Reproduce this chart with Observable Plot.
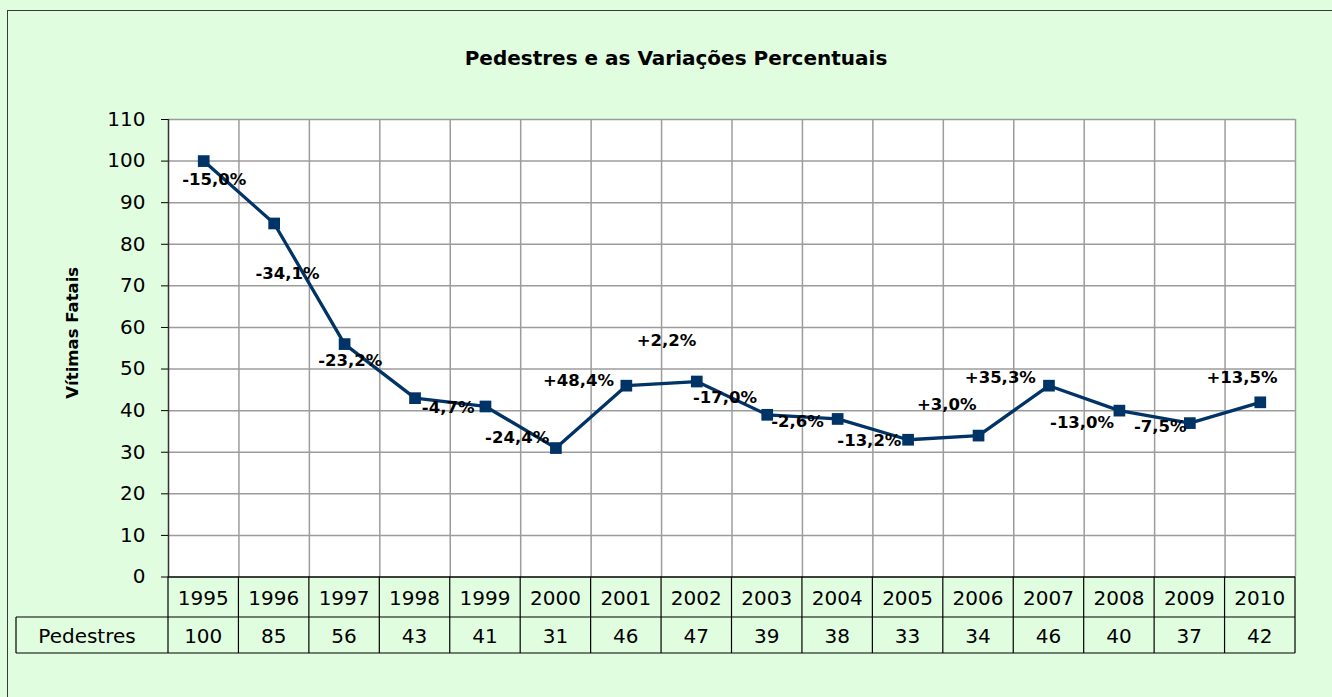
<!DOCTYPE html>
<html><head><meta charset="utf-8">
<script src="https://cdn.jsdelivr.net/npm/d3@7"></script>
<script src="https://cdn.jsdelivr.net/npm/@observablehq/plot@0.6"></script>
<style>
html,body{margin:0;padding:0;background:#e0fde0;overflow:hidden;width:1332px;height:697px}
#frame{position:absolute;left:7px;top:10px;width:1400px;height:800px;border:1.5px solid #3a3a3a;pointer-events:none}
#title{height:54px;padding-top:46px;padding-left:20px;line-height:24px;text-align:center;font:bold 20px "DejaVu Sans";color:#000}
#chart svg{display:block}
</style></head><body>
<div id="frame"></div>
<div id="title">Pedestres e as Variações Percentuais</div>
<div id="chart"></div>
<script>
const years = [1995,1996,1997,1998,1999,2000,2001,2002,2003,2004,2005,2006,2007,2008,2009,2010];
const pedestres = [100,85,56,43,41,31,46,47,39,38,33,34,46,40,37,42];
const variacoes = ["-15,0%","-34,1%","-23,2%","-4,7%","-24,4%","+48,4%","+2,2%","-17,0%","-2,6%","-13,2%","+3,0%","+35,3%","-13,0%","-7,5%","+13,5%"];
const labelX = [1995.15,1996.19,1997.08,1998.47,1999.45,2000.32,2001.57,2002.40,2003.43,2004.45,2005.55,2006.31,2007.47,2008.58,2009.74];
const labelY = [95.5,72.9,52.1,40.8,33.6,47.3,56.9,43.2,37.4,32.7,41.5,48.0,37.0,36.1,47.8];
const yTicks = [0,10,20,30,40,50,60,70,80,90,100,110];
const seriesName = "Pedestres";
const yTitle = "Vítimas Fatais";

const data = years.map((year, i) => ({year, value: pedestres[i]}));
const bounds = years.map(d => d + 0.5);
const font = "DejaVu Sans";

const chart = Plot.plot({
  width: 1332,
  height: 597,
  marginLeft: 168,
  marginRight: 37,
  marginTop: 19,
  marginBottom: 120.5,
  style: {fontFamily: font, fontSize: "20px", background: "transparent", overflow: "visible", color: "#000"},
  x: {type: "linear", domain: [years[0] - 0.5, years[years.length - 1] + 0.5], axis: null},
  y: {domain: [0, 110], axis: null},
  marks: [
    Plot.frame({fill: "white", stroke: null}),
    Plot.ruleY(yTicks.filter(d => d > 0), {stroke: "#9c9c9c", strokeWidth: 1.5}),
    Plot.ruleX(bounds, {stroke: "#9c9c9c", strokeWidth: 1.5}),
    Plot.ruleX([years[0] - 0.5], {stroke: "#333", strokeWidth: 1.5}),
    Plot.ruleY([0], {stroke: "#000", strokeWidth: 1.5}),
    Plot.axisY({ticks: yTicks, tickSize: 7, tickPadding: 16, fontSize: 20, label: null, stroke: "#000"}),
    Plot.line(data, {x: "year", y: "value", stroke: "#003366", strokeWidth: 3.3}),
    Plot.dot(data, {x: "year", y: "value", symbol: "square", r: 6.6, fill: "#003366", stroke: null}),
    Plot.text(variacoes, {x: (d, i) => labelX[i], y: (d, i) => labelY[i], text: d => d, fontWeight: "bold", fontSize: 16.5, fill: "#000"})
  ]
});

// data table under the chart, positioned with the chart's own scales
const xs = chart.scale("x"), ys = chart.scale("y");
const fx = d3.scaleLinear(xs.domain, xs.range);
const fy = d3.scaleLinear(ys.domain, ys.range);
const top0 = fy(0), row1 = top0 + 40.5, row2 = top0 + 76.5;
const left0 = 16, xStart = fx(years[0] - 0.5), xEnd = fx(years[years.length - 1] + 0.5);
const svg = d3.select(chart);
const g = svg.append("g").attr("stroke", "#000").attr("stroke-width", 1.2);
g.append("line").attr("x1", left0).attr("x2", xEnd).attr("y1", row1).attr("y2", row1);
g.append("line").attr("x1", left0).attr("x2", xEnd).attr("y1", row2).attr("y2", row2);
g.append("line").attr("x1", left0).attr("x2", left0).attr("y1", row1).attr("y2", row2);
g.append("line").attr("x1", xStart).attr("x2", xStart).attr("y1", top0).attr("y2", row2);
bounds.forEach(b => g.append("line").attr("x1", fx(b)).attr("x2", fx(b)).attr("y1", top0).attr("y2", row2));
const t = svg.append("g").attr("font-family", font).attr("font-size", 20).attr("fill", "#000")
  .attr("text-anchor", "middle").attr("dominant-baseline", "central");
years.forEach((yr, i) => {
  t.append("text").attr("x", fx(yr)).attr("y", (top0 + row1) / 2 + 1).text(yr);
  t.append("text").attr("x", fx(yr)).attr("y", (row1 + row2) / 2 + 1).text(pedestres[i]);
});
t.append("text").attr("x", 87).attr("y", (row1 + row2) / 2 + 1).text(seriesName);

// y-axis title
svg.append("text")
  .attr("transform", `translate(72,${(fy(0) + fy(110)) / 2 - 15}) rotate(-90)`)
  .attr("font-family", font).attr("font-size", 16.5).attr("font-weight", "bold")
  .attr("fill", "#000").attr("text-anchor", "middle").attr("dominant-baseline", "central")
  .text(yTitle);

document.getElementById("chart").appendChild(chart);
</script>
</body></html>
